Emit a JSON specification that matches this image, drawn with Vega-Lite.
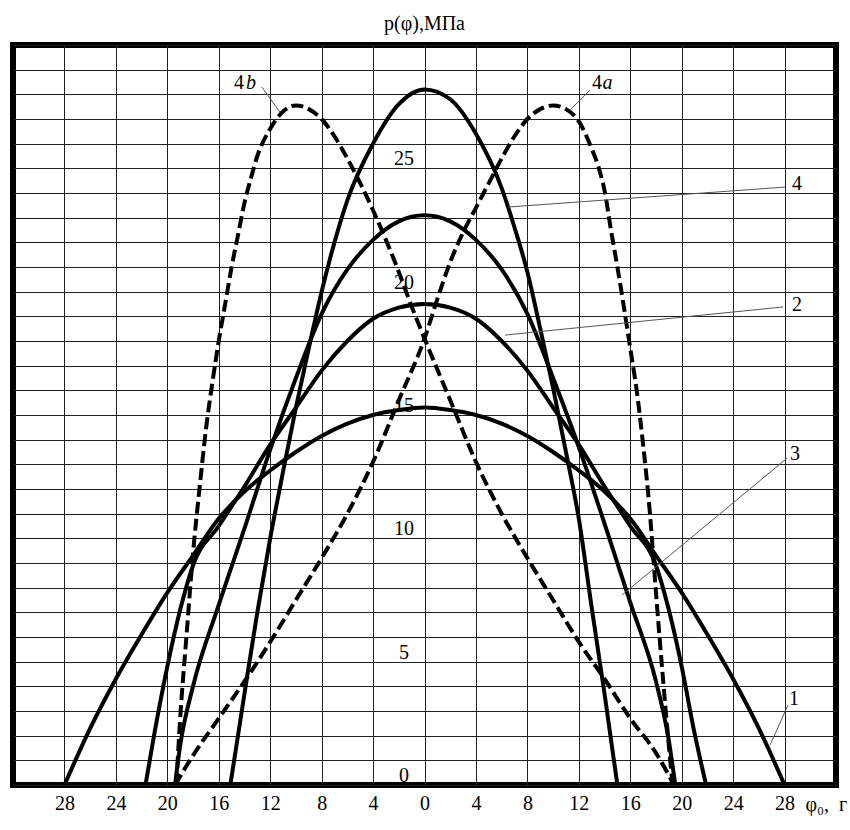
{
  "$schema": "https://vega.github.io/schema/vega-lite/v6.json",
  "width": 823,
  "height": 740,
  "autosize": {"type": "none"},
  "padding": {"left": 13, "top": 45, "right": 14, "bottom": 45},
  "background": "white",
  "title": {
    "text": "p(φ),МПа",
    "anchor": "middle",
    "offset": 11,
    "font": "Liberation Serif",
    "fontSize": 20,
    "fontWeight": "normal",
    "color": "black"
  },
  "config": {
    "view": {"stroke": "black", "strokeWidth": 6},
    "font": "Liberation Serif"
  },
  "resolve": {"axis": {"x": "independent", "y": "independent"}},
  "datasets": {
    "curves": [
      {"c": "1", "phi": -28, "p": 0}, {"c": "1", "phi": -26, "p": 2.3}, {"c": "1", "phi": -24, "p": 4.3},
      {"c": "1", "phi": -22, "p": 6.1}, {"c": "1", "phi": -20, "p": 7.8}, {"c": "1", "phi": -18, "p": 9.3},
      {"c": "1", "phi": -16, "p": 10.8}, {"c": "1", "phi": -14, "p": 11.9}, {"c": "1", "phi": -12, "p": 12.75},
      {"c": "1", "phi": -10, "p": 13.5}, {"c": "1", "phi": -8, "p": 14.15}, {"c": "1", "phi": -6, "p": 14.65},
      {"c": "1", "phi": -4, "p": 15.0}, {"c": "1", "phi": -2, "p": 15.2}, {"c": "1", "phi": 0, "p": 15.3},
      {"c": "1", "phi": 2, "p": 15.2}, {"c": "1", "phi": 4, "p": 15.0}, {"c": "1", "phi": 6, "p": 14.65},
      {"c": "1", "phi": 8, "p": 14.15}, {"c": "1", "phi": 10, "p": 13.5}, {"c": "1", "phi": 12, "p": 12.75},
      {"c": "1", "phi": 14, "p": 11.9}, {"c": "1", "phi": 16, "p": 10.8}, {"c": "1", "phi": 18, "p": 9.3},
      {"c": "1", "phi": 20, "p": 7.8}, {"c": "1", "phi": 22, "p": 6.1}, {"c": "1", "phi": 24, "p": 4.3},
      {"c": "1", "phi": 26, "p": 2.3}, {"c": "1", "phi": 28, "p": 0},

      {"c": "2", "phi": -21.7, "p": 0}, {"c": "2", "phi": -21, "p": 2.1}, {"c": "2", "phi": -20, "p": 4.8},
      {"c": "2", "phi": -19, "p": 7.1}, {"c": "2", "phi": -18, "p": 8.9}, {"c": "2", "phi": -16, "p": 10.5},
      {"c": "2", "phi": -14, "p": 12.1}, {"c": "2", "phi": -12, "p": 13.8}, {"c": "2", "phi": -10, "p": 15.3},
      {"c": "2", "phi": -8, "p": 16.8}, {"c": "2", "phi": -6, "p": 18.0}, {"c": "2", "phi": -4, "p": 18.9},
      {"c": "2", "phi": -2, "p": 19.35}, {"c": "2", "phi": 0, "p": 19.5}, {"c": "2", "phi": 2, "p": 19.35},
      {"c": "2", "phi": 4, "p": 18.9}, {"c": "2", "phi": 6, "p": 18.0}, {"c": "2", "phi": 8, "p": 16.8},
      {"c": "2", "phi": 10, "p": 15.3}, {"c": "2", "phi": 12, "p": 13.8}, {"c": "2", "phi": 14, "p": 12.1},
      {"c": "2", "phi": 16, "p": 10.5}, {"c": "2", "phi": 18, "p": 8.9}, {"c": "2", "phi": 19, "p": 7.1},
      {"c": "2", "phi": 20, "p": 4.8}, {"c": "2", "phi": 21, "p": 2.1}, {"c": "2", "phi": 21.9, "p": 0},

      {"c": "3", "phi": -19.4, "p": 0}, {"c": "3", "phi": -19, "p": 1.6}, {"c": "3", "phi": -18, "p": 4.0},
      {"c": "3", "phi": -16, "p": 7.3}, {"c": "3", "phi": -14, "p": 10.4}, {"c": "3", "phi": -12, "p": 13.6},
      {"c": "3", "phi": -10, "p": 16.5}, {"c": "3", "phi": -8, "p": 19.1}, {"c": "3", "phi": -6, "p": 20.9},
      {"c": "3", "phi": -4, "p": 22.1}, {"c": "3", "phi": -2, "p": 22.85}, {"c": "3", "phi": 0, "p": 23.1},
      {"c": "3", "phi": 2, "p": 22.85}, {"c": "3", "phi": 4, "p": 22.1}, {"c": "3", "phi": 6, "p": 20.9},
      {"c": "3", "phi": 8, "p": 19.1}, {"c": "3", "phi": 10, "p": 16.5}, {"c": "3", "phi": 12, "p": 13.7},
      {"c": "3", "phi": 14, "p": 10.6}, {"c": "3", "phi": 16, "p": 7.4}, {"c": "3", "phi": 18, "p": 4.2},
      {"c": "3", "phi": 19, "p": 1.8}, {"c": "3", "phi": 19.5, "p": 0},

      {"c": "4", "phi": -15.1, "p": 0}, {"c": "4", "phi": -14, "p": 3.7}, {"c": "4", "phi": -13, "p": 7.0},
      {"c": "4", "phi": -12, "p": 10.0}, {"c": "4", "phi": -11, "p": 12.7}, {"c": "4", "phi": -10, "p": 15.3},
      {"c": "4", "phi": -9, "p": 17.7}, {"c": "4", "phi": -8, "p": 20.0}, {"c": "4", "phi": -7, "p": 22.0},
      {"c": "4", "phi": -6, "p": 23.7}, {"c": "4", "phi": -4, "p": 26.0}, {"c": "4", "phi": -2, "p": 27.6},
      {"c": "4", "phi": 0, "p": 28.2}, {"c": "4", "phi": 2, "p": 27.8}, {"c": "4", "phi": 4, "p": 26.4},
      {"c": "4", "phi": 6, "p": 24.2}, {"c": "4", "phi": 7, "p": 22.6}, {"c": "4", "phi": 8, "p": 20.8},
      {"c": "4", "phi": 9, "p": 18.5}, {"c": "4", "phi": 10, "p": 16.1}, {"c": "4", "phi": 11, "p": 13.5},
      {"c": "4", "phi": 12, "p": 10.8}, {"c": "4", "phi": 13, "p": 7.2}, {"c": "4", "phi": 14, "p": 3.7},
      {"c": "4", "phi": 15, "p": 0},

      {"c": "4a", "phi": -19.4, "p": 0}, {"c": "4a", "phi": -18, "p": 1.2}, {"c": "4a", "phi": -16, "p": 2.7},
      {"c": "4a", "phi": -14, "p": 4.2}, {"c": "4a", "phi": -12, "p": 5.8}, {"c": "4a", "phi": -10, "p": 7.5},
      {"c": "4a", "phi": -8, "p": 9.2}, {"c": "4a", "phi": -6, "p": 11.0}, {"c": "4a", "phi": -4, "p": 13.1},
      {"c": "4a", "phi": -2, "p": 15.6}, {"c": "4a", "phi": 0, "p": 18.1}, {"c": "4a", "phi": 1, "p": 19.7},
      {"c": "4a", "phi": 2, "p": 21.2}, {"c": "4a", "phi": 3, "p": 22.4}, {"c": "4a", "phi": 4, "p": 23.4},
      {"c": "4a", "phi": 5, "p": 24.4}, {"c": "4a", "phi": 6, "p": 25.4}, {"c": "4a", "phi": 7, "p": 26.3},
      {"c": "4a", "phi": 8, "p": 27.0}, {"c": "4a", "phi": 9, "p": 27.4}, {"c": "4a", "phi": 10, "p": 27.55},
      {"c": "4a", "phi": 11, "p": 27.4}, {"c": "4a", "phi": 12, "p": 26.9}, {"c": "4a", "phi": 13, "p": 25.8},
      {"c": "4a", "phi": 13.5, "p": 25.1}, {"c": "4a", "phi": 14, "p": 24.1}, {"c": "4a", "phi": 14.5, "p": 22.5},
      {"c": "4a", "phi": 15, "p": 21.0}, {"c": "4a", "phi": 15.5, "p": 19.4}, {"c": "4a", "phi": 16, "p": 17.7},
      {"c": "4a", "phi": 16.5, "p": 16.0}, {"c": "4a", "phi": 17, "p": 13.8}, {"c": "4a", "phi": 17.5, "p": 11.2},
      {"c": "4a", "phi": 18, "p": 7.8}, {"c": "4a", "phi": 18.5, "p": 4.6}, {"c": "4a", "phi": 19, "p": 1.6},
      {"c": "4a", "phi": 19.3, "p": 0},

      {"c": "4b", "phi": -19.3, "p": 0}, {"c": "4b", "phi": -19, "p": 2.7}, {"c": "4b", "phi": -18.5, "p": 6.1},
      {"c": "4b", "phi": -18, "p": 9.4}, {"c": "4b", "phi": -17.5, "p": 12.0}, {"c": "4b", "phi": -17, "p": 14.4},
      {"c": "4b", "phi": -16.5, "p": 16.3}, {"c": "4b", "phi": -16, "p": 18.0}, {"c": "4b", "phi": -15.5, "p": 19.5},
      {"c": "4b", "phi": -15, "p": 21.0}, {"c": "4b", "phi": -14.5, "p": 22.3}, {"c": "4b", "phi": -14, "p": 23.6},
      {"c": "4b", "phi": -13.5, "p": 24.6}, {"c": "4b", "phi": -13, "p": 25.5}, {"c": "4b", "phi": -12, "p": 26.6},
      {"c": "4b", "phi": -11, "p": 27.3}, {"c": "4b", "phi": -10, "p": 27.55}, {"c": "4b", "phi": -9, "p": 27.4},
      {"c": "4b", "phi": -8, "p": 27.0}, {"c": "4b", "phi": -7, "p": 26.3}, {"c": "4b", "phi": -6, "p": 25.4},
      {"c": "4b", "phi": -5, "p": 24.4}, {"c": "4b", "phi": -4, "p": 23.3}, {"c": "4b", "phi": -3, "p": 22.1},
      {"c": "4b", "phi": -2, "p": 20.8}, {"c": "4b", "phi": -1, "p": 19.4}, {"c": "4b", "phi": 0, "p": 18.1},
      {"c": "4b", "phi": 2, "p": 15.6}, {"c": "4b", "phi": 4, "p": 13.1}, {"c": "4b", "phi": 6, "p": 11.0},
      {"c": "4b", "phi": 8, "p": 9.2}, {"c": "4b", "phi": 10, "p": 7.5}, {"c": "4b", "phi": 12, "p": 5.8},
      {"c": "4b", "phi": 14, "p": 4.3}, {"c": "4b", "phi": 16, "p": 2.7}, {"c": "4b", "phi": 18, "p": 1.3},
      {"c": "4b", "phi": 19.4, "p": 0}
    ],
    "ylabels": [
      {"v": 0}, {"v": 5}, {"v": 10}, {"v": 15}, {"v": 20}, {"v": 25}
    ],
    "tags": [
      {"t": "4", "phi": -14.42, "p": 28.44},
      {"t": "4", "phi": 13.41, "p": 28.44},
      {"t": "4", "phi": 28.97, "p": 24.38},
      {"t": "2", "phi": 28.97, "p": 19.44},
      {"t": "3", "phi": 28.81, "p": 13.4},
      {"t": "1", "phi": 28.73, "p": 3.47}
    ],
    "tagLetters": [
      {"t": "b", "phi": -13.49, "p": 28.44},
      {"t": "a", "phi": 14.23, "p": 28.44}
    ],
    "leaders": [
      {"phi": -12.64, "p": 28.29, "phi2": -11.24, "p2": 27.28},
      {"phi": 12.87, "p": 28.17, "phi2": 11.31, "p2": 27.36},
      {"phi": 6.49, "p": 23.43, "phi2": 28.03, "p2": 24.24},
      {"phi": 6.26, "p": 18.24, "phi2": 27.88, "p2": 19.38},
      {"phi": 15.36, "p": 7.7, "phi2": 28.19, "p2": 13.25},
      {"phi": 26.87, "p": 1.62, "phi2": 28.27, "p2": 3.24}
    ]
  },
  "layer": [
    {
      "data": {"name": "curves"},
      "transform": [{"filter": "datum.c == '1' || datum.c == '2' || datum.c == '3' || datum.c == '4'"}],
      "mark": {"type": "line", "color": "black", "strokeWidth": 4, "interpolate": "monotone", "clip": true},
      "encoding": {
        "x": {
          "field": "phi", "type": "quantitative",
          "scale": {"domain": [-32, 32], "nice": false, "zero": false},
          "axis": {
            "values": [-28, -24, -20, -16, -12, -8, -4, 0, 4, 8, 12, 16, 20, 24, 28],
            "tickCount": 40,
            "labelExpr": "abs(datum.value)",
            "grid": true, "gridColor": "#222", "gridWidth": 1, "gridOpacity": 1,
            "domain": false, "ticks": false, "tickSize": 0,
            "labelFont": "Liberation Serif", "labelFontSize": 20, "labelColor": "black",
            "labelBaseline": "alphabetic", "labelPadding": 24, "labelFlush": false, "labelOverlap": false,
            "title": "φ₀, \u00a0г",
            "titleFont": "Liberation Serif", "titleFontSize": 20, "titleFontWeight": "normal", "titleColor": "black",
            "titleAlign": "left", "titleBaseline": "alphabetic", "titleAnchor": null,
            "titleX": 792, "titleY": 25
          }
        },
        "y": {
          "field": "p", "type": "quantitative",
          "scale": {"domain": [0, 30], "nice": false, "zero": false},
          "axis": {
            "values": [0, 1, 2, 3, 4, 5, 6, 7, 8, 9, 10, 11, 12, 13, 14, 15, 16, 17, 18, 19, 20, 21, 22, 23, 24, 25, 26, 27, 28, 29, 30],
            "tickCount": 40,
            "grid": true, "gridColor": "#222", "gridWidth": 1, "gridOpacity": 1,
            "domain": false, "ticks": false, "tickSize": 0,
            "labels": false,
            "title": null
          }
        },
        "detail": {"field": "c"}
      }
    },
    {
      "data": {"name": "curves"},
      "transform": [{"filter": "datum.c == '4a' || datum.c == '4b'"}],
      "mark": {"type": "line", "color": "black", "strokeWidth": 4, "strokeDash": [12, 5], "interpolate": "monotone", "clip": true},
      "encoding": {
        "x": {"field": "phi", "type": "quantitative", "axis": null},
        "y": {"field": "p", "type": "quantitative", "axis": null},
        "detail": {"field": "c"}
      }
    },
    {
      "mark": {"type": "rule", "color": "black", "strokeWidth": 6},
      "encoding": {"x": {"datum": 0, "axis": null}}
    },
    {
      "data": {"name": "leaders"},
      "mark": {"type": "rule", "color": "#555", "strokeWidth": 1},
      "encoding": {
        "x": {"field": "phi", "type": "quantitative", "axis": null},
        "y": {"field": "p", "type": "quantitative", "axis": null},
        "x2": {"field": "phi2"},
        "y2": {"field": "p2"}
      }
    },
    {
      "data": {"name": "ylabels"},
      "mark": {"type": "text", "font": "Liberation Serif", "fontSize": 20, "color": "black", "align": "center", "baseline": "alphabetic", "dy": -3},
      "encoding": {
        "x": {"datum": -1.6, "axis": null},
        "y": {"field": "v", "type": "quantitative", "axis": null},
        "text": {"field": "v", "type": "quantitative"}
      }
    },
    {
      "data": {"name": "tags"},
      "mark": {"type": "text", "font": "Liberation Serif", "fontSize": 20, "color": "black", "align": "center", "baseline": "middle"},
      "encoding": {
        "x": {"field": "phi", "type": "quantitative", "axis": null},
        "y": {"field": "p", "type": "quantitative", "axis": null},
        "text": {"field": "t"}
      }
    },
    {
      "data": {"name": "tagLetters"},
      "mark": {"type": "text", "font": "Liberation Serif", "fontSize": 20, "fontStyle": "italic", "color": "black", "align": "center", "baseline": "middle"},
      "encoding": {
        "x": {"field": "phi", "type": "quantitative", "axis": null},
        "y": {"field": "p", "type": "quantitative", "axis": null},
        "text": {"field": "t"}
      }
    }
  ]
}
